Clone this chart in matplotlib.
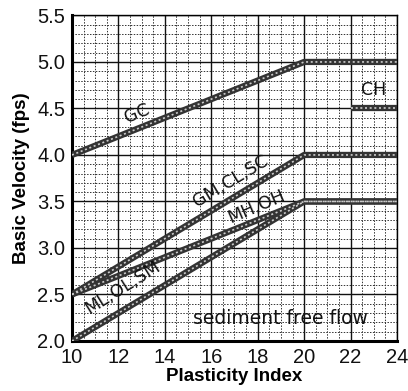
import matplotlib
matplotlib.use("Agg")
import matplotlib.pyplot as plt
from matplotlib.ticker import MultipleLocator

# Plasticity index breakpoints and basic velocity (fps) for each soil group
pi_pts = [10, 20, 24]
gc_vel = [4.0, 5.0, 5.0]
gm_vel = [2.5, 4.0, 4.0]
mh_vel = [2.5, 3.5, 3.5]
ml_vel = [2.0, 3.5, 3.5]
ch_pi = [22, 24]
ch_vel = [4.5, 4.5]

x_ticks = [10, 12, 14, 16, 18, 20, 22, 24]
y_ticks = [2.0, 2.5, 3.0, 3.5, 4.0, 4.5, 5.0, 5.5]

fig = plt.figure(figsize=(4.08, 3.91), dpi=100)
ax = fig.add_axes([0.1765, 0.128, 0.7965, 0.8325])
ax.set_xlim(10, 24)
ax.set_ylim(2.0, 5.5)

# graph-paper grid
ax.xaxis.set_major_locator(MultipleLocator(2))
ax.yaxis.set_major_locator(MultipleLocator(0.5))
ax.xaxis.set_minor_locator(MultipleLocator(0.5))
ax.yaxis.set_minor_locator(MultipleLocator(0.1))
ax.grid(which="major", color="#111111", lw=1.0)
ax.grid(which="minor", color="#333333", lw=0.7, ls=(0, (1.5, 1.5)))
ax.set_axisbelow(True)

def band(x, y):
    ax.plot(x, y, color="#333333", lw=4.5, solid_capstyle="butt", zorder=3)
    ax.plot(x, y, color="#cccccc", lw=1.2, ls=(0, (1.2, 1.6)), zorder=4)

band(pi_pts, gc_vel)
band(pi_pts, gm_vel)
band(pi_pts, mh_vel)
band(pi_pts, ml_vel)
band(ch_pi, ch_vel)

lab = dict(family="DejaVu Sans", fontsize=12.5, color="#111111",
           ha="center", va="center", zorder=5)
ax.text(12.8, 4.45, "GC", rotation=22, **lab)
ax.text(23.0, 4.70, "CH", **lab)
ax.text(16.85, 3.72, "GM,CL,SC", rotation=31, **lab)
ax.text(17.95, 3.44, "MH,OH", rotation=23, **lab)
ax.text(12.2, 2.58, "ML,OL,SM", rotation=32, **lab)
ax.text(19.0, 2.24, "sediment free flow",
        **{**lab, "fontsize": 13.5})

ax.set_xticks(x_ticks)
ax.set_yticks(y_ticks)
ax.set_xticklabels([str(v) for v in x_ticks])
ax.set_yticklabels([f"{v:.1f}" for v in y_ticks])
ax.tick_params(which="both", length=0, pad=5)
for t in ax.get_xticklabels() + ax.get_yticklabels():
    t.set_fontfamily("Liberation Sans")
    t.set_fontsize(14.5)
    t.set_color("#111111")

ax.set_xlabel("Plasticity Index", family="Liberation Sans", fontsize=13.5,
              fontweight="bold", labelpad=1)
ax.set_ylabel("Basic Velocity (fps)", family="Liberation Sans", fontsize=13.5,
              fontweight="bold", labelpad=5)

for s in ax.spines.values():
    s.set_linewidth(1.0)
ax.spines["left"].set_linewidth(2.2)
ax.spines["bottom"].set_linewidth(2.2)

fig.savefig("out.png", dpi=100)
